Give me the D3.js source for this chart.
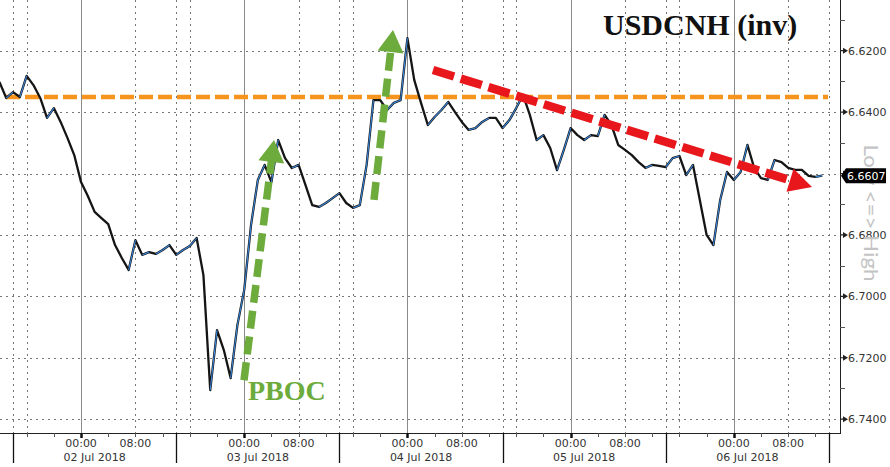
<!DOCTYPE html>
<html><head><meta charset="utf-8">
<script src="https://cdn.jsdelivr.net/npm/d3@7"></script>
<style>body{margin:0;background:#fff}svg{display:block}</style>
</head><body>
<svg id="c" width="890" height="467"></svg>
<script>
// ---- data ----
const seriesStart = "2018-07-01T12:00:00Z"; // first hourly close
const closes = [
6.6302,6.6354,6.6335,6.6351,6.6282,6.6312,6.6354,6.6419,6.6387,6.6432,6.6484,6.6540,
6.6628,6.6673,6.6725,6.6745,6.6765,6.6833,6.6875,6.6914,6.6817,6.6865,6.6856,6.6862,
6.6849,6.6833,6.6865,6.6849,6.6836,6.6810,6.6931,6.7305,6.7110,6.7175,6.7266,6.7093,
6.6979,6.6768,6.6621,6.6572,6.6628,6.6491,6.6550,6.6582,6.6572,6.6637,6.6703,6.6709,
6.6696,6.6680,6.6664,6.6696,6.6712,6.6703,6.6572,6.6361,6.6361,6.6393,6.6370,6.6361,
6.6159,6.6295,6.6370,6.6442,6.6416,6.6393,6.6367,6.6400,6.6432,6.6458,6.6452,6.6432,
6.6419,6.6419,6.6452,6.6426,6.6387,6.6344,6.6409,6.6491,6.6475,6.6517,6.6589,6.6523,
6.6452,6.6475,6.6491,6.6475,6.6478,6.6409,6.6442,6.6507,6.6523,6.6540,6.6563,6.6582,
6.6572,6.6575,6.6579,6.6550,6.6543,6.6605,6.6572,6.6686,6.6800,6.6833,6.6686,6.6595,
6.6621,6.6595,6.6507,6.6582,6.6615,6.6621,6.6556,6.6563,6.6582,6.6588,6.6588,6.6608,
6.6611,6.6607
];
const yTicks = [6.62, 6.64, 6.66, 6.68, 6.70, 6.72, 6.74];
const yMinorTicks = [6.61, 6.63, 6.65, 6.67, 6.69, 6.71, 6.73];
const refLevel = 6.6351;          // orange dashed level
const lastPrice = 6.6607;
const dayLabels = ["02 Jul 2018", "03 Jul 2018", "04 Jul 2018", "05 Jul 2018", "06 Jul 2018"];
const dayLabelDates = ["2018-07-02", "2018-07-03", "2018-07-04", "2018-07-05", "2018-07-06"];
const title = "USDCNH (inv)";
const annotationText = "PBOC";
const sideText = "Low <=> High";
// annotation arrows in data space: [startTime, startValue, tipTime, tipValue]
const greenArrows = [
  ["2018-07-02T23:58:00Z", 6.7273, "2018-07-03T04:23:00Z", 6.6491],
  ["2018-07-03T19:05:00Z", 6.6686, "2018-07-03T21:53:00Z", 6.6133]
];
const redArrow = ["2018-07-04T03:46:00Z", 6.6263, "2018-07-06T11:30:00Z", 6.6644];

// ---- layout ----
const W = 890, H = 467;
const plot = {left: 0, right: 840, top: 0, bottom: 433};
const svg = d3.select("#c");
const t0 = new Date("2018-07-01T12:05:00Z"), t1 = new Date("2018-07-06T15:37:00Z");
const x = d3.scaleUtc().domain([t0, t1]).range([plot.left, plot.right]);
const y = d3.scaleLinear().domain([6.6035, 6.7445]).range([plot.top, plot.bottom]); // inverted axis

const start = new Date(seriesStart);
const data = closes.map((v, i) => ({t: d3.utcHour.offset(start, i), v}));

svg.append("rect").attr("width", W).attr("height", H).attr("fill", "#fff");
svg.append("clipPath").attr("id", "clip").append("rect")
  .attr("x", plot.left).attr("y", plot.top).attr("width", plot.right - plot.left).attr("height", plot.bottom - plot.top);

const grid = svg.append("g");
grid.selectAll("line.h").data(yTicks).join("line")
  .attr("x1", plot.left).attr("x2", plot.right)
  .attr("y1", d => Math.round(y(d)) + 0.5).attr("y2", d => Math.round(y(d)) + 0.5)
  .attr("stroke", "#777").attr("stroke-dasharray", "2,4");

const hours = d3.utcHour.every(1).range(t0, t1);
const dotted = hours.filter(d => [8, 16, 14].includes(d.getUTCHours()));
const solid = hours.filter(d => d.getUTCHours() === 0);
grid.selectAll("line.vd").data(dotted).join("line")
  .attr("x1", d => Math.round(x(d)) + 0.5).attr("x2", d => Math.round(x(d)) + 0.5)
  .attr("y1", plot.top).attr("y2", plot.bottom)
  .attr("stroke", "#777").attr("stroke-dasharray", "2,4");
grid.selectAll("line.vs").data(solid).join("line")
  .attr("x1", d => Math.round(x(d)) + 0.5).attr("x2", d => Math.round(x(d)) + 0.5)
  .attr("y1", plot.top).attr("y2", plot.bottom)
  .attr("stroke", "#8a8a8a").attr("stroke-width", 1);

// orange reference level
svg.append("line")
  .attr("x1", plot.left + 6).attr("x2", 828)
  .attr("y1", y(refLevel)).attr("y2", y(refLevel))
  .attr("stroke", "#f7941d").attr("stroke-width", 4.5).attr("stroke-dasharray", "14,5");

// price line: dark candle-like outline with blue up-moves on top
const lineG = svg.append("g").attr("clip-path", "url(#clip)");
const line = d3.line().x(d => x(d.t)).y(d => y(d.v));
lineG.append("path").datum(data).attr("d", line)
  .attr("fill", "none").attr("stroke", "#151515").attr("stroke-width", 2.3).attr("stroke-linejoin", "round");
const segs = d3.pairs(data).filter(([a, b]) => b.v < a.v);
lineG.selectAll("path.up").data(segs).join("path")
  .attr("d", d => line(d)).attr("fill", "none")
  .attr("stroke", "#3a86d9").attr("stroke-width", 1.1);

// arrows
function arrow(spec, color, width, dash, headLen, headHalf) {
  const sx = x(new Date(spec[0])), sy = y(spec[1]);
  const tx = x(new Date(spec[2])), ty = y(spec[3]);
  const dx = tx - sx, dy = ty - sy, L = Math.hypot(dx, dy);
  const ux = dx / L, uy = dy / L, px = -uy, py = ux;
  const bx = tx - ux * headLen, by = ty - uy * headLen;
  svg.append("line").attr("x1", sx).attr("y1", sy).attr("x2", bx + ux * 2).attr("y2", by + uy * 2)
    .attr("stroke", color).attr("stroke-width", width).attr("stroke-dasharray", dash);
  svg.append("polygon")
    .attr("points", [[tx, ty], [bx + px * headHalf, by + py * headHalf], [bx - px * headHalf, by - py * headHalf]].map(p => p.join(",")).join(" "))
    .attr("fill", color);
}
greenArrows.forEach(a => arrow(a, "#6cab3c", 7.5, "18,8", 22, 13));
arrow(redArrow, "#e8171c", 8.5, "22,7", 23, 12);

// axes frame
svg.append("line").attr("x1", plot.left).attr("x2", plot.right + 0.5).attr("y1", plot.bottom + 0.5).attr("y2", plot.bottom + 0.5)
  .attr("stroke", "#222").attr("stroke-width", 1);
svg.append("line").attr("x1", plot.right + 0.5).attr("x2", plot.right + 0.5).attr("y1", plot.top).attr("y2", plot.bottom + 1)
  .attr("stroke", "#222").attr("stroke-width", 1);

// bottom ticks every 4 hours
const tickTimes = d3.utcHour.every(4).range(t0, t1);
svg.selectAll("line.bt").data(tickTimes).join("line")
  .attr("x1", d => Math.round(x(d)) + 0.5).attr("x2", d => Math.round(x(d)) + 0.5)
  .attr("y1", plot.bottom).attr("y2", d => d.getUTCHours() === 0 ? plot.bottom + 5 : plot.bottom + 4)
  .attr("stroke", d => d.getUTCHours() === 0 ? "#111" : "#555")
  .attr("stroke-width", d => d.getUTCHours() === 0 ? 2.5 : 1);
const seps = hours.filter(d => d.getUTCHours() === 14);
svg.selectAll("line.sep").data(seps).join("line")
  .attr("x1", d => Math.round(x(d)) + 0.5).attr("x2", d => Math.round(x(d)) + 0.5)
  .attr("y1", plot.bottom).attr("y2", 463)
  .attr("stroke", "#111").attr("stroke-width", 1.3);

const font = "'DejaVu Sans', Verdana, sans-serif";
const hourLabels = hours.filter(d => d.getUTCHours() === 0 || d.getUTCHours() === 8);
svg.selectAll("text.hl").data(hourLabels).join("text")
  .attr("x", d => x(d)).attr("y", 447)
  .attr("text-anchor", "middle").attr("font-family", font).attr("font-size", 11).attr("fill", "#333")
  .text(d3.utcFormat("%H:%M"));
svg.selectAll("text.dl").data(dayLabels).join("text")
  .attr("x", (d, i) => x(d3.utcHour.offset(new Date(dayLabelDates[i] + "T00:00:00Z"), 2)))
  .attr("y", 461)
  .attr("text-anchor", "middle").attr("font-family", font).attr("font-size", 11).attr("fill", "#333")
  .text(d => d);

// right axis
const ra = svg.append("g");
ra.selectAll("line.mt").data(yMinorTicks).join("line")
  .attr("x1", plot.right).attr("x2", plot.right + 5)
  .attr("y1", d => Math.round(y(d)) + 0.5).attr("y2", d => Math.round(y(d)) + 0.5)
  .attr("stroke", "#555");
ra.selectAll("polygon.tk").data(yTicks).join("polygon")
  .attr("points", d => { const yy = y(d); return `${plot.right},${yy - 0.6} ${plot.right + 3},${yy - 0.6} ${plot.right + 3},${yy - 3} ${plot.right + 8},${yy} ${plot.right + 3},${yy + 3} ${plot.right + 3},${yy + 0.6} ${plot.right},${yy + 0.6}`; })
  .attr("fill", "#222");
ra.selectAll("text.yt").data(yTicks).join("text")
  .attr("x", plot.right + 8).attr("y", d => y(d)).attr("dy", "0.36em")
  .attr("font-family", font).attr("font-size", 11).attr("fill", "#333")
  .text(d => d3.format(".4f")(d));

// side text (sits partly behind the last-price tag, as in the original)
svg.append("text")
  .attr("transform", `translate(864,${213}) rotate(90)`)
  .attr("text-anchor", "middle").attr("font-family", "Lato, 'Open Sans', sans-serif").attr("font-size", 20)
  .attr("fill", "#c4c4c4").attr("textLength", 137).attr("lengthAdjust", "spacingAndGlyphs")
  .text(sideText);

// last price tag
const ly = y(lastPrice);
svg.append("polygon")
  .attr("points", `${plot.right + 1},${ly} ${plot.right + 6},${ly - 7.5} ${plot.right + 46},${ly - 7.5} ${plot.right + 46},${ly + 7.5} ${plot.right + 6},${ly + 7.5}`)
  .attr("fill", "#000");
svg.append("text").attr("x", plot.right + 7).attr("y", ly).attr("dy", "0.36em")
  .attr("font-family", font).attr("font-size", 11).attr("fill", "#fff").text(d3.format(".4f")(lastPrice));

// title and annotation
svg.append("text").attr("x", 603).attr("y", 35)
  .attr("font-family", "'Liberation Serif', 'Times New Roman', serif").attr("font-weight", "bold")
  .attr("font-size", 30).attr("fill", "#111").text(title);
svg.append("text").attr("x", 248).attr("y", 400)
  .attr("font-family", "'Liberation Serif', 'Times New Roman', serif").attr("font-weight", "bold")
  .attr("font-size", 28).attr("fill", "#6cab3c").text(annotationText);
</script>
</body></html>
